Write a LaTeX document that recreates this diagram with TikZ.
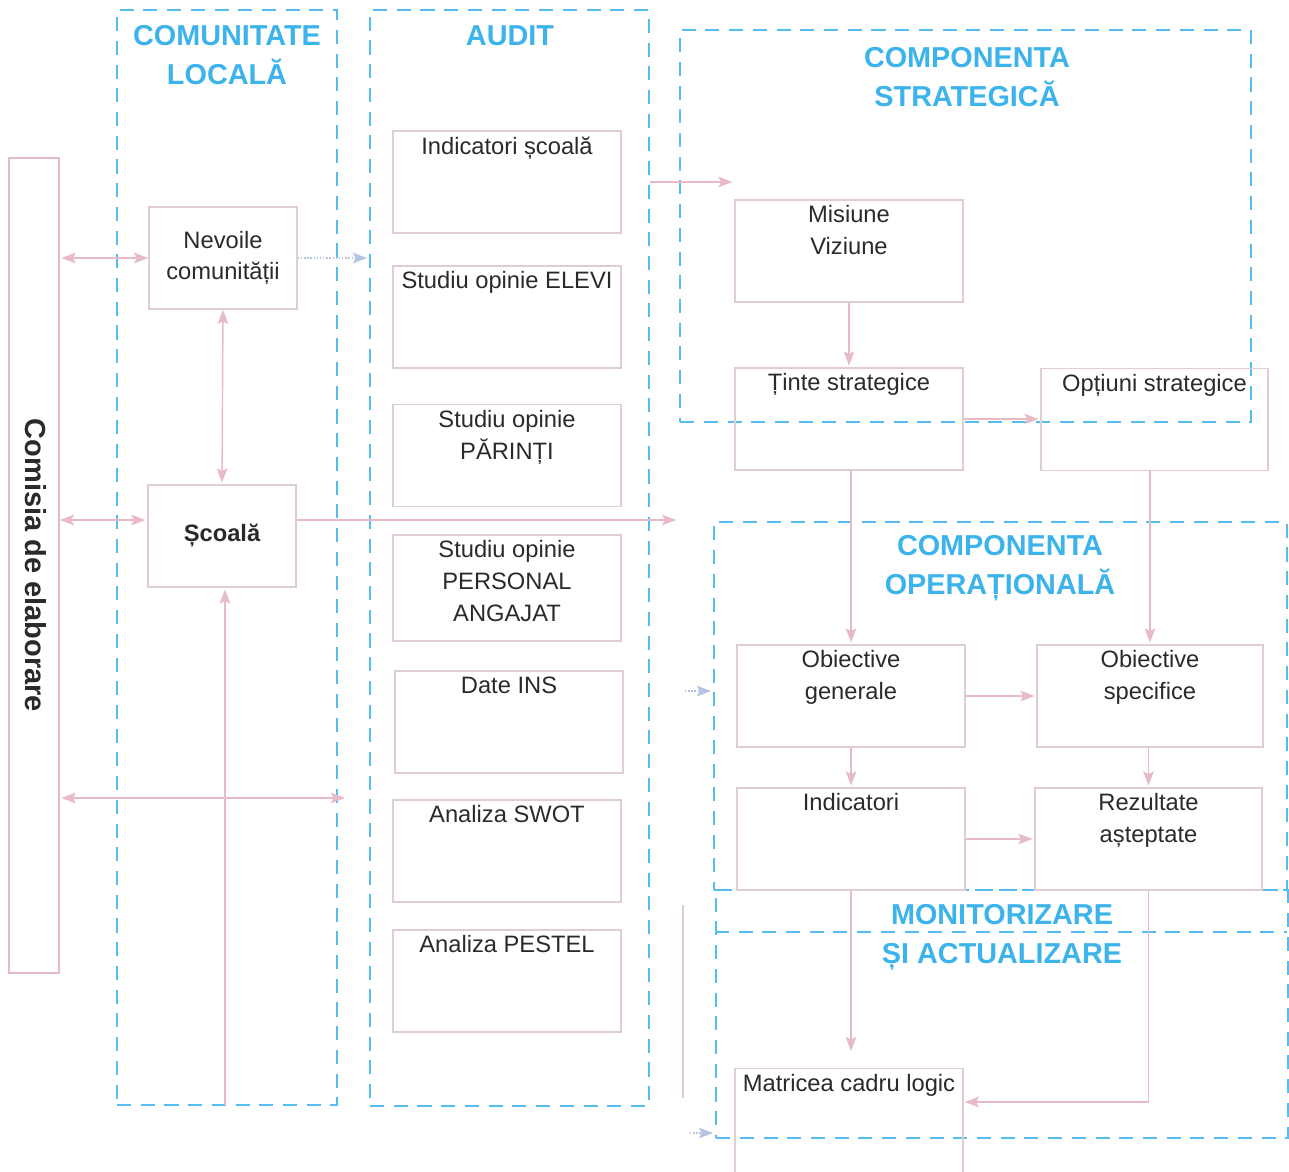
\documentclass[tikz,border=0pt]{standalone}
\usepackage{fontspec}
\setmainfont{Liberation Sans}
\usetikzlibrary{arrows.meta}
\definecolor{frameblue}{HTML}{55BDF0}
\definecolor{titleblue}{HTML}{3DB3EC}
\definecolor{boxline}{HTML}{DFCDD2}
\definecolor{linkpink}{HTML}{E6BAC6}
\definecolor{linkblue}{HTML}{B6C4E4}
\definecolor{textgrey}{HTML}{2A2A2A}

\begin{document}
\begin{tikzpicture}[x=0.02cm,y=-0.02cm,->,>={Stealth[length=8pt,width=6pt,inset=1.5pt]},
  shorten >=1pt,line width=0.8pt,
  frame/.style={draw=frameblue,line width=1.4pt,dash pattern=on 8pt off 5.5pt,inner sep=0pt},
  frame line/.style={draw=frameblue,line width=1.4pt,dash pattern=on 8pt off 5.5pt,-},
  title/.style={text=titleblue,align=center,font=\fontsize{16.4}{22}\selectfont\bfseries},
  plain box/.style={draw=boxline,line width=0.9pt,minimum width=2.96cm,minimum height=2.04cm,
    align=center,text=textgrey,font=\fontsize{13.5}{18}\selectfont},
  box/.style={draw=boxline,line width=0.9pt,minimum width=4.56cm,minimum height=2.04cm,
    label={[anchor=north,align=center,text=textgrey,font=\fontsize{13.5}{18}\selectfont]north:#1}},
  link/.style={draw,color=linkpink},
  dot link/.style={draw,color=linkblue,densely dotted}]

  \useasboundingbox (0,0) rectangle (1289,1171);

  % frames
  \node[frame,minimum width=4.4cm,minimum height=21.9cm] (loc) at (227,557.5) {};
  \node[frame,minimum width=5.58cm,minimum height=21.92cm] (audit) at (509.5,558) {};
  \node[frame,minimum width=11.42cm,minimum height=7.84cm] (strat) at (965.5,226) {};
  \node[frame,minimum width=11.46cm,minimum height=7.36cm] (oper) at (1000.5,706) {};
  \node[frame,minimum width=11.44cm,minimum height=4.96cm] (mon) at (1002,1014) {};
  \draw[frame line] (mon.west |- 0,932) -- (mon.east |- 0,932);

  \node[title] (tloc) at (227,55) {COMUNITATE\\LOCALĂ};
  \node[title] (taudit) at (510,36) {AUDIT};
  \node[title] (tstrat) at (967,77) {COMPONENTA\\STRATEGICĂ};
  \node[title] (toper) at (1000,568) {COMPONENTA\\OPERAȚIONALĂ};
  \node[title] (tmon) at (1002,937) {MONITORIZARE\\ȘI ACTUALIZARE};

  % comisia
  \node[draw=linkpink,line width=0.9pt,minimum width=1cm,minimum height=16.3cm] (com) at (34,565.5) {};
  \node[rotate=-90,text=textgrey,font=\fontsize{16.5}{20}\selectfont\bfseries] (comt) at (36,565.5) {Comisia de elaborare};

  % comunitate locala
  \node[plain box] (nev) at (223,258) {Nevoile\\comunității};
  \node[plain box,font=\fontsize{13.5}{18}\selectfont\bfseries] (sc) at (222,536) {Școală};

  % audit
  \node[box={Indicatori școală}] (is) at (507,182) {};
  \node[box={Studiu opinie ELEVI}] (elevi) at (507,317) {};
  \node[box={Studiu opinie\\PĂRINȚI}] (par) at (507,455.5) {};
  \node[box={Studiu opinie\\PERSONAL\\ANGAJAT},minimum height=2.12cm] (pers) at (507,588) {};
  \node[box={Date INS}] (ins) at (509,722) {};
  \node[box={Analiza SWOT}] (swot) at (507,851) {};
  \node[box={Analiza PESTEL}] (pestel) at (507,981) {};

  % strategic
  \node[box={Misiune\\Viziune}] (mv) at (849,251) {};
  \node[box={Ținte strategice}] (ts) at (849,419) {};
  \node[box={Opțiuni strategice},minimum width=4.54cm] (os) at (1154.5,419.5) {};

  % operational
  \node[box={Obiective\\generale}] (og) at (851,696) {};
  \node[box={Obiective\\specifice},minimum width=4.52cm] (osp) at (1150,696) {};
  \node[box={Indicatori}] (ind) at (851,839) {};
  \node[box={Rezultate\\așteptate},minimum width=4.54cm] (rez) at (1148.5,839) {};
  \node[box={Matricea cadru logic},minimum height=2.1cm] (mcl) at (849,1121) {};

  \coordinate (scr) at (678,520);
  \coordinate (scb) at (225,1105);
  \coordinate (hx) at (345,798);
  \coordinate (mclin) at (963,1102);
  \coordinate (fba) at (685,691);
  \coordinate (fbb) at (690,1133);
  \coordinate (fbt) at (683,905);
  \coordinate (fbd) at (683,1100);

  \path[every edge/.append style={link}]
    (nev.west) edge[<->] (com.east |- nev)
    (nev.south) edge[<->] (sc.north)
    (com.east |- scr) edge[<->] (sc.west |- scr)
    (sc.east |- scr) edge (scr)
    (scb) edge (sc.south -| scb)
    (hx) edge[<->] (com.east |- hx)
    (audit.east |- is) edge (mv.west |- is)
    (mv.south) edge (ts.north)
    (ts.east) edge (os.west |- ts.east)
    (og.north |- ts.south) edge (og.north)
    (osp.north |- os.south) edge (osp.north)
    (og.east) edge (osp.west)
    (og.south) edge (ind.north)
    (rez.north |- osp.south) edge (rez.north)
    (ind.east) edge (rez.west)
    (ind.south) edge ([yshift=8.5pt]mcl.north -| ind.south)
    ;
  \draw[link] (rez.south) |- (mclin);
  \draw[draw=boxline,-] (fbt) -- (fbd);
  \path[every edge/.append style={dot link}]
    (nev.east) edge (audit.west |- nev)
    (fba) edge (oper.west |- fba)
    (fbb) edge (mon.west |- fbb)
    ;
\end{tikzpicture}
\end{document}
